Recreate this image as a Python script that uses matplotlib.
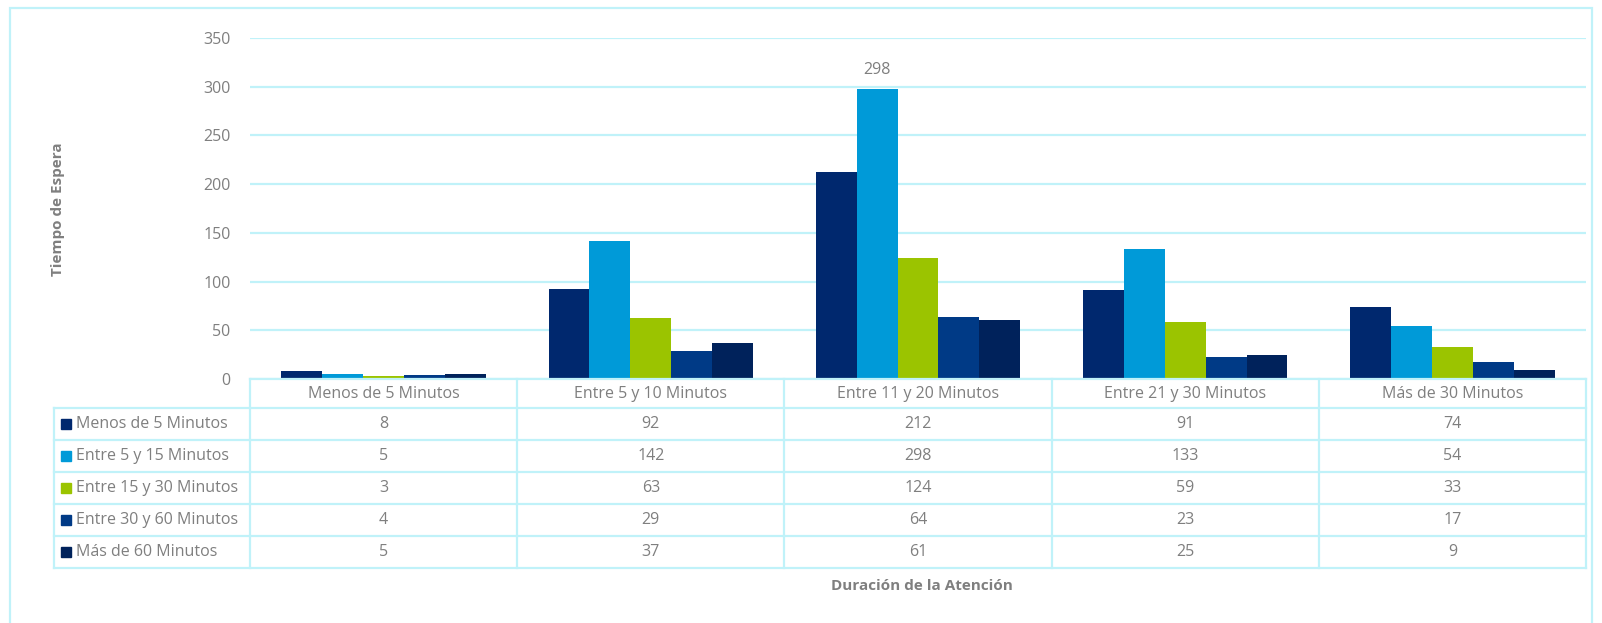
import matplotlib
matplotlib.use("Agg")
from matplotlib import pyplot as plt
from matplotlib.lines import Line2D
from matplotlib.patches import Rectangle
from matplotlib.transforms import blended_transform_factory

categories = ["Menos de 5 Minutos", "Entre 5 y 10 Minutos", "Entre 11 y 20 Minutos",
              "Entre 21 y 30 Minutos", "Más de 30 Minutos"]
series_names = ["Menos de 5 Minutos", "Entre 5 y 15 Minutos", "Entre 15 y 30 Minutos",
                "Entre 30 y 60 Minutos", "Más de 60 Minutos"]
menos_5 = [8, 92, 212, 91, 74]
entre_5_15 = [5, 142, 298, 133, 54]
entre_15_30 = [3, 63, 124, 59, 33]
entre_30_60 = [4, 29, 64, 23, 17]
mas_60 = [5, 37, 61, 25, 9]
series = [menos_5, entre_5_15, entre_15_30, entre_30_60, mas_60]
colors = ["#00286e", "#009ad8", "#9bc400", "#003a86", "#00225b"]

GRID = "#c0f2f9"
TXT = "#7f7f7f"
W, H = 1602, 623
plt.rcParams['font.family'] = ['Open Sans', 'DejaVu Sans']

fig = plt.figure(figsize=(W / 100, H / 100), dpi=100)

def fx(px):
    return px / W

def fy(py):
    return 1 - py / H

# outer frame
fig.add_artist(Rectangle((fx(10), fy(640)), fx(1592) - fx(10), fy(8) - fy(640),
                         transform=fig.transFigure, fill=False, edgecolor=GRID, lw=1.6))

ax = fig.add_axes([fx(250), fy(379), fx(1586) - fx(250), fy(38) - fy(379)])
n = len(series)
bw = 0.153
for j, vals in enumerate(series):
    xs = [i + (j - (n - 1) / 2) * bw for i in range(len(categories))]
    ax.bar(xs, vals, width=bw, color=colors[j], zorder=3)

# label for the maximum
imax = entre_5_15.index(max(entre_5_15))
ax.annotate(str(max(entre_5_15)), (imax + (1 - 2) * bw, max(entre_5_15)),
            xytext=(0, 8), textcoords="offset points", ha="center", va="bottom",
            color=TXT, fontsize=11.5)

ax.set_xlim(-0.5, len(categories) - 0.5)
ax.set_ylim(0, 350)
ax.set_yticks(range(0, 351, 50))
ax.yaxis.grid(True, color=GRID, lw=1.6, zorder=0)
ax.set_xticks([])
ax.tick_params(axis="y", length=0, pad=14, labelcolor=TXT, labelsize=11.5)
for s in ax.spines.values():
    s.set_visible(False)

# data table below the axis
tr = blended_transform_factory(ax.transData, fig.transFigure)
row_y = [379, 408, 440, 472, 504, 536, 568]
col_x = [i - 0.5 for i in range(len(categories) + 1)]

def hline(x0, x1, py, trans):
    fig.add_artist(Line2D([x0, x1], [fy(py), fy(py)], transform=trans, color=GRID, lw=1.6))

def vline(x, py0, py1, trans):
    fig.add_artist(Line2D([x, x], [fy(py0), fy(py1)], transform=trans, color=GRID, lw=1.6))

tf = fig.transFigure
hline(col_x[0], col_x[-1], row_y[0], tr)
for py in row_y[1:]:
    hline(fx(54), fx(1586), py, tf)
for x in col_x:
    vline(x, row_y[0], row_y[-1], tr)
vline(fx(54), row_y[1], row_y[-1], tf)

for i, c in enumerate(categories):
    fig.text(i, fy((row_y[0] + row_y[1]) / 2), c, transform=tr, ha="center",
             va="center", color=TXT, fontsize=11.5)

for j, vals in enumerate(series):
    yc = fy((row_y[j + 1] + row_y[j + 2]) / 2)
    fig.add_artist(Rectangle((fx(61), yc - 5 / H), 10 / W, 10 / H,
                             transform=tf, color=colors[j]))
    fig.text(fx(76), yc, series_names[j], ha="left", va="center", color=TXT, fontsize=11.5)
    for i, v in enumerate(vals):
        fig.text(i, yc, str(v), transform=tr, ha="center", va="center",
                 color=TXT, fontsize=11.5)

fig.text(fx(922), fy(586), "Duración de la Atención", ha="center", va="center",
         color=TXT, fontsize=11, fontweight="bold")
fig.text(fx(58), fy(209), "Tiempo de Espera", ha="center", va="center",
         rotation=90, color=TXT, fontsize=11, fontweight="bold")

fig.savefig("out.png", dpi=100, facecolor="white")
